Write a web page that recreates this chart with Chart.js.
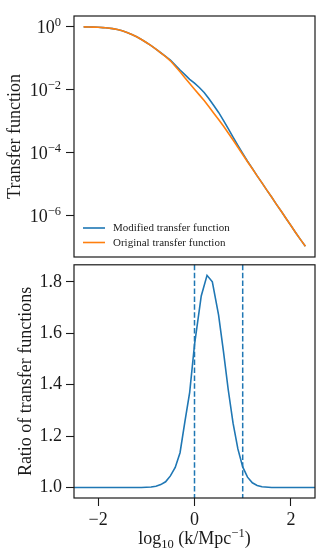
<!DOCTYPE html>
<html>
<head>
<meta charset="utf-8">
<script src="https://cdn.jsdelivr.net/npm/chart.js@4.4.1/dist/chart.umd.min.js"></script>
<style>
  html, body { margin: 0; padding: 0; background: #fff; }
  #wrap { position: relative; width: 332px; height: 559px; }
  canvas { position: absolute; left: 0; }
  #topChart { top: 0; }
  #ratioChart { top: 250px; }
</style>
</head>
<body>
<div id="wrap">
  <canvas id="topChart" width="332" height="260"></canvas>
  <canvas id="ratioChart" width="332" height="309"></canvas>
</div>
<script>
// ---- data ----
const logK = [-2.3, -2.2, -2.1, -2.0, -1.9, -1.8, -1.7, -1.6, -1.5, -1.4, -1.3, -1.2,
  -1.1, -1.0, -0.9, -0.8, -0.7, -0.6, -0.5, -0.4, -0.3, -0.2, -0.1, 0.0,
  0.1, 0.2, 0.3, 0.4, 0.5, 0.6, 0.7, 0.8, 0.9, 1.0, 1.1, 1.2,
  1.3, 1.4, 1.5, 1.6, 1.7, 1.8, 1.9, 2.0, 2.1, 2.2, 2.3];

// log10 of the transfer functions
const logTOriginal = [-0.005, -0.008, -0.012, -0.018, -0.027, -0.040, -0.060, -0.090, -0.130, -0.180, -0.245, -0.320,
  -0.405, -0.500, -0.600, -0.710, -0.830, -0.950, -1.080, -1.250, -1.430, -1.620, -1.800, -1.980,
  -2.160, -2.340, -2.540, -2.740, -2.940, -3.150, -3.370, -3.590, -3.820, -4.050, -4.280, -4.500,
  -4.730, -4.950, -5.180, -5.400, -5.630, -5.850, -6.080, -6.300, -6.530, -6.750, -6.960];

const logTModified = [-0.005, -0.008, -0.012, -0.018, -0.027, -0.040, -0.060, -0.090, -0.130, -0.180, -0.245, -0.320,
  -0.405, -0.500, -0.599, -0.708, -0.825, -0.939, -1.059, -1.217, -1.373, -1.520, -1.666, -1.790,
  -1.927, -2.085, -2.282, -2.497, -2.717, -2.968, -3.233, -3.497, -3.761, -4.017, -4.263, -4.492,
  -4.727, -4.949, -5.180, -5.400, -5.630, -5.850, -6.080, -6.300, -6.530, -6.750, -6.960];

const ratioK = [-2.7, -1.3, -1.1, -0.9, -0.8, -0.7, -0.6, -0.5, -0.4, -0.3, -0.2, -0.1, 0.0,
  0.14, 0.26, 0.37, 0.5, 0.6, 0.7, 0.8, 0.9, 1.0, 1.1, 1.2, 1.3, 1.4, 1.6, 2.7];
const ratioVals = [1.0, 1.0, 1.0, 1.002, 1.005, 1.011, 1.022, 1.045, 1.078, 1.135, 1.255, 1.37, 1.555,
  1.745, 1.825, 1.80, 1.67, 1.53, 1.38, 1.25, 1.15, 1.08, 1.04, 1.018, 1.008, 1.003, 1.0, 1.0];

const vLines = [0, 1];

const topTicks = [1, 1e-2, 1e-4, 1e-6];
const topTickExp = ['0', '\u22122', '\u22124', '\u22126'];
const ratioTicks = [1.0, 1.2, 1.4, 1.6, 1.8];
const xTicks = [-2, 0, 2];

const seriesLabels = ['Modified transfer function', 'Original transfer function'];

// ---- style ----
const SERIF = '"Liberation Serif", "DejaVu Serif", serif';
const BLUE = '#1f77b4', ORANGE = '#ff7f0e', INK = '#1a1a1a';

function drawRich(ctx, parts, x, y, align) {
  let w = 0;
  parts.forEach(p => { ctx.font = p.size + 'px ' + SERIF; p.w = ctx.measureText(p.t).width; w += p.w; });
  let cx = align === 'right' ? x - w : align === 'center' ? x - w / 2 : x;
  ctx.textAlign = 'left';
  ctx.textBaseline = 'alphabetic';
  parts.forEach(p => {
    ctx.font = p.size + 'px ' + SERIF;
    ctx.fillText(p.t, cx, y + (p.dy || 0));
    cx += p.w;
  });
}

function frame(chart) {
  const ctx = chart.ctx, a = chart.chartArea;
  ctx.save();
  ctx.strokeStyle = INK;
  ctx.lineWidth = 1.2;
  ctx.strokeRect(a.left, a.top, a.right - a.left, a.bottom - a.top);
  ctx.restore();
}

function yTitle(chart, text, x) {
  const ctx = chart.ctx, a = chart.chartArea;
  ctx.save();
  ctx.fillStyle = INK;
  ctx.font = '18px ' + SERIF;
  ctx.translate(x, (a.top + a.bottom) / 2);
  ctx.rotate(-Math.PI / 2);
  ctx.textAlign = 'center';
  ctx.textBaseline = 'middle';
  ctx.fillText(text, 0, 0);
  ctx.restore();
}

const topDecor = {
  id: 'topDecor',
  afterDraw(chart) {
    const ctx = chart.ctx, a = chart.chartArea, ys = chart.scales.y;
    frame(chart);
    ctx.save();
    ctx.fillStyle = INK;
    topTicks.forEach((v, i) => {
      const py = ys.getPixelForValue(v);
      drawRich(ctx, [{ t: '10', size: 18 }, { t: topTickExp[i], size: 12.5, dy: -7 }], 61, py + 6, 'right');
    });
    // legend
    const ds = chart.data.datasets;
    ds.forEach((d, i) => {
      const ly = 228 + i * 14.5;
      ctx.strokeStyle = d.borderColor;
      ctx.lineWidth = 1.6;
      ctx.beginPath();
      ctx.moveTo(a.left + 9, ly);
      ctx.lineTo(a.left + 31, ly);
      ctx.stroke();
      ctx.fillStyle = INK;
      ctx.font = '11px ' + SERIF;
      ctx.textAlign = 'left';
      ctx.textBaseline = 'middle';
      ctx.fillText(d.label, a.left + 39, ly + 0.5);
    });
    ctx.restore();
    yTitle(chart, 'Transfer function', 15);
  }
};

const ratioDecor = {
  id: 'ratioDecor',
  beforeDatasetsDraw(chart) {
    const ctx = chart.ctx, a = chart.chartArea, xs = chart.scales.x;
    ctx.save();
    ctx.strokeStyle = BLUE;
    ctx.lineWidth = 1.5;
    ctx.setLineDash([5.5, 2.4]);
    vLines.forEach(v => {
      const px = xs.getPixelForValue(v);
      ctx.beginPath();
      ctx.moveTo(px, a.top);
      ctx.lineTo(px, a.bottom);
      ctx.stroke();
    });
    ctx.restore();
  },
  afterDraw(chart) {
    const ctx = chart.ctx;
    frame(chart);
    yTitle(chart, 'Ratio of transfer functions', 26);
    ctx.save();
    ctx.fillStyle = INK;
    const xs = chart.scales.x;
    const cx = (chart.chartArea.left + chart.chartArea.right) / 2;
    drawRich(ctx, [
      { t: 'log', size: 18 },
      { t: '10', size: 12.5, dy: 4 },
      { t: ' (k/Mpc', size: 18 },
      { t: '\u22121', size: 12.5, dy: -7 },
      { t: ')', size: 18 }
    ], cx, 294, 'center');
    ctx.restore();
  }
};

const gridOpts = { drawOnChartArea: false, drawTicks: true, tickLength: 8, tickWidth: 1.1, color: INK };

new Chart(document.getElementById('topChart'), {
  type: 'line',
  data: {
    datasets: [
      { label: seriesLabels[0], data: logK.map((k, i) => ({ x: k, y: Math.pow(10, logTModified[i]) })),
        borderColor: BLUE, borderWidth: 1.6, pointRadius: 0, order: 2 },
      { label: seriesLabels[1], data: logK.map((k, i) => ({ x: k, y: Math.pow(10, logTOriginal[i]) })),
        borderColor: ORANGE, borderWidth: 1.6, pointRadius: 0, order: 1 }
    ]
  },
  options: {
    responsive: false,
    animation: false,
    layout: { padding: { left: 0, right: 17, top: 16, bottom: 3 }, autoPadding: false },
    plugins: { legend: { display: false }, tooltip: { enabled: false } },
    scales: {
      x: { type: 'linear', min: -2.5, max: 2.5, display: false },
      y: {
        type: 'logarithmic', min: Math.pow(10, -7.30), max: Math.pow(10, 0.34),
        afterBuildTicks(s) { s.ticks = topTicks.map(v => ({ value: v })); },
        afterFit(s) { s.width = 74; },
        ticks: { display: false },
        grid: gridOpts,
        border: { display: false }
      }
    }
  },
  plugins: [topDecor]
});

new Chart(document.getElementById('ratioChart'), {
  type: 'line',
  data: {
    datasets: [
      { data: ratioK.map((k, i) => ({ x: k, y: ratioVals[i] })),
        borderColor: BLUE, borderWidth: 1.6, pointRadius: 0, clip: 0 }
    ]
  },
  options: {
    responsive: false,
    animation: false,
    layout: { padding: { left: 0, right: 17, top: 7, bottom: 0 }, autoPadding: false },
    plugins: { legend: { display: false }, tooltip: { enabled: false } },
    scales: {
      x: {
        type: 'linear', min: -2.5, max: 2.5,
        afterBuildTicks(s) { s.ticks = xTicks.map(v => ({ value: v })); },
        afterFit(s) { s.height = 61; },
        ticks: { color: INK, font: { family: SERIF, size: 18 }, padding: 3,
          maxRotation: 0, callback: v => String(v).replace('-', '\u2212') },
        grid: gridOpts,
        border: { display: false }
      },
      y: {
        type: 'linear', min: 0.959, max: 1.866,
        afterBuildTicks(s) { s.ticks = ratioTicks.map(v => ({ value: v })); },
        afterFit(s) { s.width = 74; },
        ticks: { color: INK, font: { family: SERIF, size: 18 }, padding: 4, callback: v => v.toFixed(1) },
        grid: gridOpts,
        border: { display: false }
      }
    }
  },
  plugins: [ratioDecor]
});
</script>
</body>
</html>
